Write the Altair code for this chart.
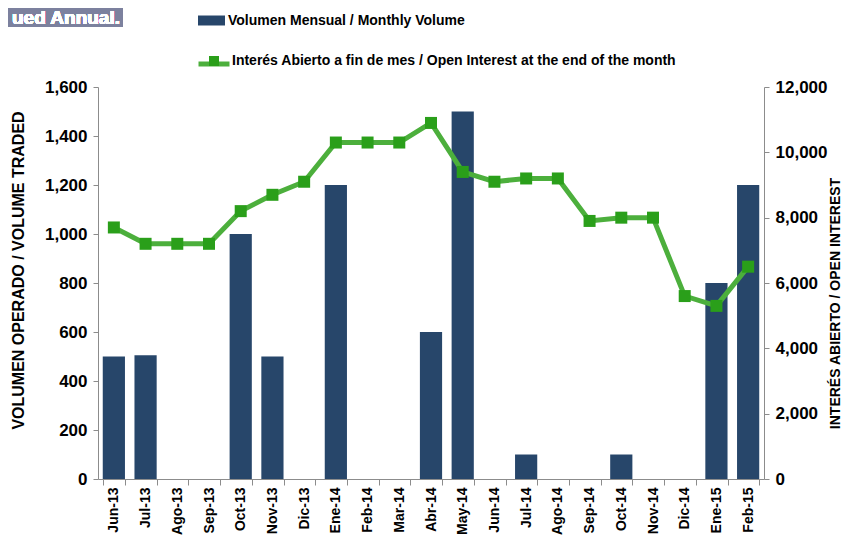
import altair as alt
import pandas as pd

months = ["Jun-13", "Jul-13", "Ago-13", "Sep-13", "Oct-13", "Nov-13", "Dic-13",
          "Ene-14", "Feb-14", "Mar-14", "Abr-14", "May-14", "Jun-14", "Jul-14",
          "Ago-14", "Sep-14", "Oct-14", "Nov-14", "Dic-14", "Ene-15", "Feb-15"]
volume = [500, 505, 0, 0, 1000, 500, 0, 1200, 0, 0, 600, 1500, 0, 100, 0, 0, 100, 0, 0, 800, 1200]
open_interest = [7700, 7200, 7200, 7200, 8200, 8700, 9100, 10300, 10300, 10300,
                 10900, 9400, 9100, 9200, 9200, 7900, 8000, 8000, 5600, 5300, 6500]

vol_label = "Volumen Mensual / Monthly Volume"
oi_label = "Interés Abierto a fin de mes / Open Interest at the end of the month"
left_title = "VOLUMEN OPERADO / VOLUME TRADED"
right_title = "INTERÉS ABIERTO / OPEN INTEREST"
corner_text = "ued Annual."

df = pd.DataFrame({"month": months, "vol": volume, "oi": open_interest,
                   "vs": vol_label, "os1": oi_label, "os2": oi_label})

FONT = "Liberation Sans"
W, H = 666, 392

xenc = alt.X("month:N", sort=months,
             scale=alt.Scale(paddingInner=0.3, paddingOuter=0.15),
             axis=alt.Axis(title=None, labelAngle=-90, labelAlign="right", labelBaseline="middle",
                           labelFont=FONT, labelFontSize=14, labelFontWeight="bold",
                           labelColor="black", labelPadding=2,
                           domainColor="#8c8c8c", tickColor="#8c8c8c", tickSize=6,
                           tickBand="extent", grid=False))

bars = alt.Chart(df).mark_bar(color="#27466A").encode(
    x=xenc,
    y=alt.Y("vol:Q", scale=alt.Scale(domain=[0, 1600], nice=False),
            axis=alt.Axis(title=left_title, values=list(range(0, 1601, 200)),
                          format=",.0f", labelFont=FONT, labelFontSize=17, labelFontWeight="bold",
                          labelColor="black", labelPadding=6, tickSize=5,
                          domainColor="#8c8c8c", tickColor="#8c8c8c", grid=False,
                          titleFont=FONT, titleFontSize=16, titleFontWeight="bold",
                          titleColor="black", titleAngle=270, titleX=-80, titleY=183,
                          titleAlign="center", titleBaseline="middle")),
    color=alt.Color("vs:N", scale=alt.Scale(range=["#27466A"]),
                    legend=alt.Legend(title=None, orient="none", legendX=100, legendY=-80,
                                      symbolType="M-1,-0.37H1V0.37H-1Z", symbolSize=729,
                                      symbolStrokeWidth=0, symbolOpacity=1, padding=0,
                                      labelOffset=3, labelFont=FONT, labelFontSize=14,
                                      labelFontWeight="bold", labelColor="black", labelLimit=600)),
)

oi_axis = alt.Axis(title=right_title, orient="right",
                   values=list(range(0, 12001, 2000)), format=",.0f",
                   labelFont=FONT, labelFontSize=17, labelFontWeight="bold",
                   labelColor="black", labelPadding=6, tickSize=5,
                   domainColor="#8c8c8c", tickColor="#8c8c8c", grid=False,
                   titleFont=FONT, titleFontSize=14, titleFontWeight="bold",
                   titleColor="black", titleAngle=270, titleX=71, titleY=216,
                   titleAlign="center", titleBaseline="middle")
oi_scale = alt.Scale(domain=[0, 12000], nice=False)

line = alt.Chart(df).mark_line(strokeWidth=5).encode(
    x=alt.X("month:N", sort=months),
    y=alt.Y("oi:Q", scale=oi_scale, axis=oi_axis),
    stroke=alt.Stroke("os1:N", scale=alt.Scale(range=["#4CAF3C"]),
                      legend=alt.Legend(title=None, orient="none", legendX=98, legendY=-41,
                                        symbolType="stroke", symbolSize=961,
                                        symbolStrokeWidth=5, padding=0,
                                        labelExpr="''", labelFontSize=14)),
)

points = alt.Chart(df).mark_square(size=144, opacity=1).encode(
    x=alt.X("month:N", sort=months),
    y=alt.Y("oi:Q", scale=oi_scale, axis=None),
    fill=alt.Fill("os2:N", scale=alt.Scale(range=["#2A9F1A"]),
                  legend=alt.Legend(title=None, orient="none", legendX=109, legendY=-33,
                                    symbolType="square", symbolSize=100,
                                    symbolStrokeWidth=0, symbolOpacity=1, padding=0,
                                    labelOffset=11, labelFont=FONT, labelFontSize=14,
                                    labelFontWeight="bold", labelColor="black", labelLimit=700)),
)

box = alt.Chart(df).mark_rect(color="#7C819E").encode(
    x=alt.value(-90), x2=alt.value(25), y=alt.value(-79), y2=alt.value(-60))
box_text = alt.Chart(df).mark_text(text=corner_text, color="white", font=FONT,
                                   fontSize=19, fontWeight="bold", align="right",
                                   baseline="middle").encode(
    x=alt.value(22), y=alt.value(-69))

chart = alt.layer(bars, line, points, box, box_text).resolve_scale(
    y="independent", color="independent", stroke="independent", fill="independent"
).properties(
    width=W, height=H,
    autosize=alt.AutoSizeParams(type="none"),
    padding={"left": 90, "top": 79, "right": 80, "bottom": 56},
).configure_view(stroke=None)

chart.save("out.html", embed_options={"renderer": "svg", "actions": False})
